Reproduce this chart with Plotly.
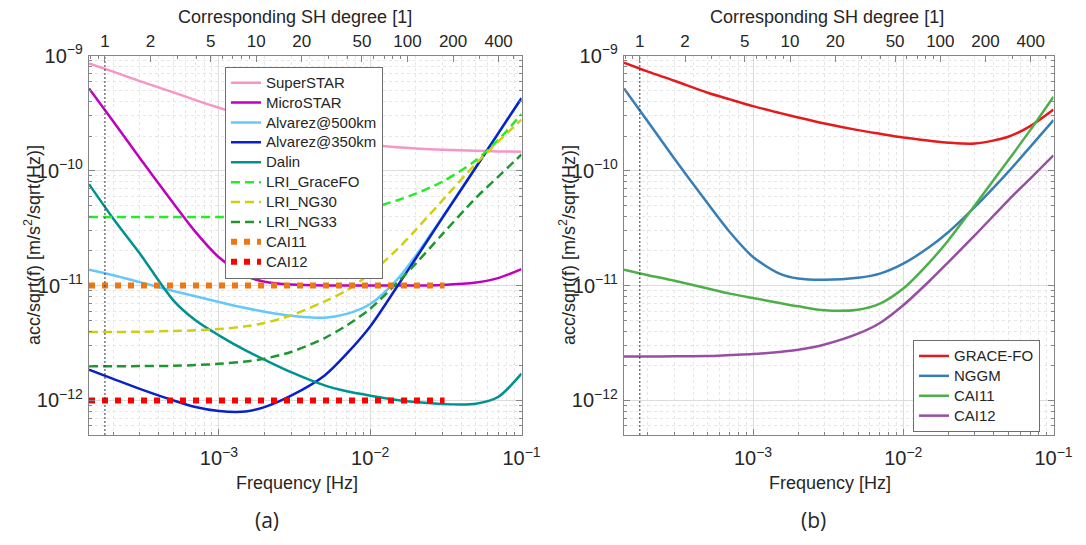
import math
import plotly.graph_objects as go

# ---------------- data ----------------
ORBIT_PERIOD_S = 5666.0          # SH degree n  <->  f = n / T
F_MIN, F_MAX = 1.385e-4, 1e-1
Y_MIN, Y_MAX = 5e-13, 1e-9

freq_hz = [1.385e-4, 2e-4, 3e-4, 5e-4, 7e-4, 1e-3, 1.5e-3, 2e-3, 3e-3, 5e-3,
           7e-3, 1e-2, 1.5e-2, 2e-2, 3e-2, 5e-2, 7e-2, 1e-1]

# panel (a)
superstar = [8.57e-10, 7.26e-10, 6.01e-10, 4.80e-10, 4.11e-10, 3.52e-10, 2.98e-10, 2.66e-10, 2.28e-10,
             1.93e-10, 1.78e-10, 1.68e-10, 1.60e-10, 1.56e-10, 1.52e-10, 1.49e-10, 1.47e-10, 1.46e-10]
microstar = [5.19e-10, 2.69e-10, 1.29e-10, 5.2e-11, 2.93e-11, 1.76e-11, 1.21e-11, 1.08e-11, 1.02e-11,
             1.0e-11, 1.0e-11, 1.0e-11, 1.0e-11, 1.0e-11, 1.01e-11, 1.06e-11, 1.16e-11, 1.39e-11]
alvarez500 = [1.37e-11, 1.23e-11, 1.07e-11, 8.96e-12, 8.05e-12, 7.19e-12, 6.37e-12, 5.92e-12, 5.46e-12,
              5.25e-12, 5.66e-12, 6.9e-12, 1.12e-11, 1.82e-11, 3.95e-11, 1.075e-10, 2.1e-10, 4.27e-10]
alvarez350 = [1.85e-12, 1.54e-12, 1.26e-12, 1.0e-12, 8.75e-13, 8.07e-13, 8.0e-13, 8.75e-13, 1.1e-12,
              1.65e-12, 2.55e-12, 4.4e-12, 9.7e-12, 1.72e-11, 3.88e-11, 1.07e-10, 2.1e-10, 4.27e-10]
dalin = [7.62e-11, 3.83e-11, 1.90e-11, 7.43e-12, 4.98e-12, 3.68e-12, 2.72e-12, 2.26e-12, 1.76e-12,
         1.35e-12, 1.20e-12, 1.10e-12, 1.01e-12, 9.67e-13, 9.29e-13, 9.35e-13, 1.07e-12, 1.71e-12]
lri_gracefo = [3.95e-11, 3.95e-11, 3.95e-11, 3.95e-11, 3.95e-11, 3.95e-11, 3.95e-11, 3.95e-11, 3.97e-11,
               4.1e-11, 4.3e-11, 4.7e-11, 5.5e-11, 6.3e-11, 8.0e-11, 1.23e-10, 1.84e-10, 3.1e-10]
lri_ng30 = [3.94e-12, 3.94e-12, 3.96e-12, 4.02e-12, 4.07e-12, 4.18e-12, 4.41e-12, 4.71e-12, 5.49e-12,
            7.28e-12, 9.08e-12, 1.27e-11, 2.05e-11, 3.05e-11, 5.5e-11, 1.15e-10, 1.78e-10, 2.78e-10]
lri_ng33 = [1.98e-12, 1.98e-12, 1.99e-12, 2.0e-12, 2.03e-12, 2.08e-12, 2.18e-12, 2.31e-12, 2.64e-12,
            3.49e-12, 4.50e-12, 6.28e-12, 1.05e-11, 1.55e-11, 2.8e-11, 5.8e-11, 8.83e-11, 1.38e-10]
cai_freq = [1.385e-4, 3.1e-2]
cai11_level = [1e-11, 1e-11]
cai12_level = [1e-12, 1e-12]

# panel (b)
gracefo = [8.69e-10, 7.26e-10, 6.05e-10, 4.76e-10, 4.17e-10, 3.64e-10, 3.18e-10, 2.90e-10, 2.57e-10,
           2.25e-10, 2.09e-10, 1.94e-10, 1.82e-10, 1.75e-10, 1.72e-10, 1.97e-10, 2.44e-10, 3.40e-10]
nggm = [5.19e-10, 2.66e-10, 1.27e-10, 5.16e-11, 2.92e-11, 1.77e-11, 1.27e-11, 1.15e-11, 1.12e-11,
        1.17e-11, 1.27e-11, 1.55e-11, 2.17e-11, 2.92e-11, 4.83e-11, 9.75e-11, 1.61e-10, 2.75e-10]
cai11_b = [1.37e-11, 1.23e-11, 1.10e-11, 9.4e-12, 8.5e-12, 7.78e-12, 7.05e-12, 6.59e-12, 6.08e-12,
           6.16e-12, 6.95e-12, 9.4e-12, 1.60e-11, 2.48e-11, 5.0e-11, 1.23e-10, 2.25e-10, 4.40e-10]
cai12_b = [2.41e-12, 2.41e-12, 2.42e-12, 2.43e-12, 2.48e-12, 2.53e-12, 2.64e-12, 2.76e-12, 3.07e-12,
           3.81e-12, 4.72e-12, 6.73e-12, 1.10e-11, 1.60e-11, 2.74e-11, 5.52e-11, 8.53e-11, 1.36e-10]

degree_ticks = [1, 2, 5, 10, 20, 50, 100, 200, 400]
degree_minor = [0.8, 0.9, 3, 4, 6, 7, 8, 9, 30, 40, 60, 70, 80, 90, 300, 500]
sh_marker_degree = [1, 1]
sh_marker_level = [Y_MIN, Y_MAX]

# ---------------- styling ----------------
FONT = "Liberation Sans, Arial, sans-serif"
TXT = "#262626"
AXLINE = "#858585"
GRID = "#dcdcdc"
MINGRID = "#e6e6e6"
W = 2.5
FIG_W, FIG_H = 1086, 545
PAGE_OFF = 8   # the page body margin shifts the figure by 8 px


def xp(px):
    return (px - PAGE_OFF) / FIG_W


def yp(py):
    return 1 - (py - PAGE_OFF) / FIG_H


def leg(name):
    return '<span style="font-size:15px">%s</span>' % name


series_a = [
    ("SuperSTAR", freq_hz, superstar, "#f795c5", "solid", W),
    ("MicroSTAR", freq_hz, microstar, "#bf00bf", "solid", W),
    ("Alvarez@500km", freq_hz, alvarez500, "#66c8f8", "solid", W),
    ("Alvarez@350km", freq_hz, alvarez350, "#0a20c8", "solid", W),
    ("Dalin", freq_hz, dalin, "#009191", "solid", W),
    ("LRI_GraceFO", freq_hz, lri_gracefo, "#22ee22", "9px,5px", W),
    ("LRI_NG30", freq_hz, lri_ng30, "#cfcf10", "9px,5px", W),
    ("LRI_NG33", freq_hz, lri_ng33, "#1e9632", "9px,5px", W),
    ("CAI11", cai_freq, cai11_level, "#ee7711", "6px,7px", 6),
    ("CAI12", cai_freq, cai12_level, "#ff0000", "6px,7px", 6),
]
series_b = [
    ("GRACE-FO", gracefo, "#e41a1c"),
    ("NGGM", nggm, "#377eb8"),
    ("CAI11", cai11_b, "#4daf4a"),
    ("CAI12", cai12_b, "#984ea3"),
]

fig = go.Figure()
for name, xs, ys, col, dash, w in series_a:
    fig.add_trace(go.Scatter(x=xs, y=ys, name=leg(name), mode="lines", xaxis="x", yaxis="y",
                             line=dict(color=col, width=w, dash=dash, shape="spline", smoothing=0.8),
                             legend="legend"))
for name, ys, col in series_b:
    fig.add_trace(go.Scatter(x=freq_hz, y=ys, name=leg(name), mode="lines", xaxis="x2", yaxis="y2",
                             line=dict(color=col, width=W, shape="spline", smoothing=0.8),
                             legend="legend2"))
# degree-1 marker lines on the SH-degree axes
for xa, ya in (("x3", "y"), ("x4", "y2")):
    fig.add_trace(go.Scatter(x=sh_marker_degree, y=sh_marker_level, mode="lines", xaxis=xa, yaxis=ya,
                             showlegend=False, hoverinfo="skip",
                             line=dict(color="#333333", width=1, dash="2px,2px")))

ydom = [yp(435), yp(55.7)]
dom_a = [xp(89), xp(521.5)]
dom_b = [xp(624), xp(1053.5)]


def freq_axis(domain, anchor):
    return dict(type="log", domain=domain, anchor=anchor,
                range=[math.log10(F_MIN), math.log10(F_MAX)],
                dtick=1, exponentformat="power", showexponent="all",
                ticks="inside", ticklen=6, tickcolor=AXLINE, ticklabelstandoff=6,
                showline=True, linecolor=AXLINE, linewidth=1, mirror=True,
                showgrid=True, gridcolor=GRID, gridwidth=1, zeroline=False,
                minor=dict(dtick="D1", ticks="inside", ticklen=3, tickcolor=AXLINE,
                           showgrid=True, gridcolor=MINGRID, griddash="dot"),
                tickfont=dict(size=16, color=TXT, family=FONT), automargin=False)


def acc_axis(anchor):
    return dict(type="log", domain=ydom, anchor=anchor,
                range=[math.log10(Y_MIN), math.log10(Y_MAX)],
                dtick=1, exponentformat="power", showexponent="all",
                ticks="inside", ticklen=6, tickcolor=AXLINE, ticklabelstandoff=2,
                showline=True, linecolor=AXLINE, linewidth=1, mirror="ticks",
                showgrid=True, gridcolor=GRID, gridwidth=1, zeroline=False,
                minor=dict(dtick="D1", ticks="inside", ticklen=3, tickcolor=AXLINE,
                           showgrid=True, gridcolor=MINGRID, griddash="dot"),
                tickfont=dict(size=16, color=TXT, family=FONT), automargin=False)


def degree_axis(over, anchor):
    return dict(type="log", overlaying=over, anchor=anchor, side="top",
                range=[math.log10(F_MIN * ORBIT_PERIOD_S), math.log10(F_MAX * ORBIT_PERIOD_S)],
                tickmode="array", tickvals=degree_ticks, ticktext=[str(v) for v in degree_ticks],
                ticks="inside", ticklen=6, tickcolor=AXLINE, showgrid=False, showline=False,
                zeroline=False, ticklabelstandoff=4,
                minor=dict(tickmode="array", tickvals=degree_minor, ticks="inside", ticklen=3,
                           tickcolor=AXLINE, showgrid=False),
                tickfont=dict(size=17, color=TXT, family=FONT), automargin=False)


legend_common = dict(bgcolor="white", bordercolor="#6e6e6e", borderwidth=1,
                     font=dict(size=13, color=TXT, family=FONT), xanchor="left", yanchor="top",
                     tracegroupgap=0, itemwidth=30)


def text_ann(px, py, text, size, family=FONT, angle=0):
    return dict(x=xp(px), y=yp(py), xref="paper", yref="paper", text=text, textangle=angle,
                xanchor="center", yanchor="middle", showarrow=False,
                font=dict(size=size, color=TXT, family=family))


ann = [
    text_ann(267, 520, "(a)", 21, "Open Sans, sans-serif"),
    text_ann(813, 520, "(b)", 21, "Open Sans, sans-serif"),
    text_ann(297, 483, "Frequency [Hz]", 18),
    text_ann(830, 483, "Frequency [Hz]", 18),
    text_ann(295, 17, "Corresponding SH degree [1]", 18),
    text_ann(827, 17, "Corresponding SH degree [1]", 18),
    text_ann(33, 245, "acc/sqrt(f) [m/s<sup>2</sup>/sqrt(Hz)]", 18, angle=-90),
    text_ann(568, 245, "acc/sqrt(f) [m/s<sup>2</sup>/sqrt(Hz)]", 18, angle=-90),
]

fig.update_layout(
    width=FIG_W, height=FIG_H, margin=dict(l=0, r=0, t=0, b=0),
    paper_bgcolor="white", plot_bgcolor="white",
    font=dict(family=FONT, color=TXT),
    xaxis=freq_axis(dom_a, "y"), yaxis=acc_axis("x"),
    xaxis2=freq_axis(dom_b, "y2"), yaxis2=acc_axis("x2"),
    xaxis3=degree_axis("x", "y"), xaxis4=degree_axis("x2", "y2"),
    legend=dict(x=xp(225), y=yp(66.7), **legend_common),
    legend2=dict(x=xp(913), y=yp(340), **legend_common),
    annotations=ann, showlegend=True,
)

fig.write_html("out.html")
